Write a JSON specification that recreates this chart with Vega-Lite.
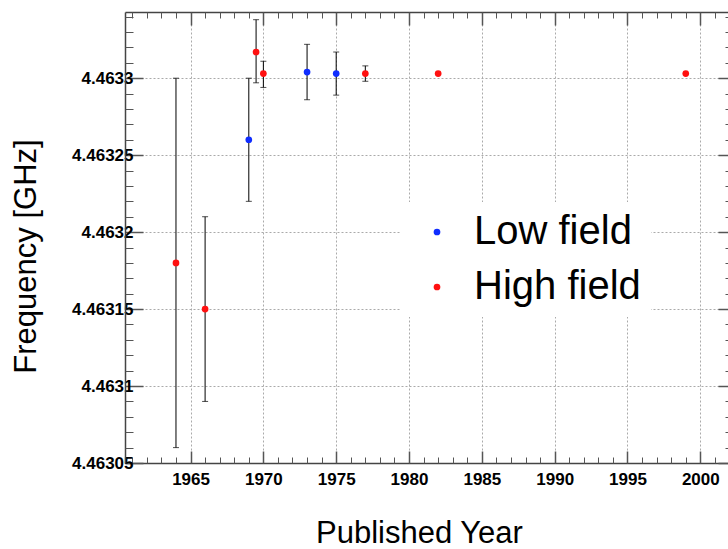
{
  "$schema": "https://vega.github.io/schema/vega-lite/v6.json",
  "width": 603,
  "height": 451,
  "autosize": {"type": "none"},
  "padding": {"left": 125, "top": 12, "right": 0, "bottom": 86},
  "background": "white",
  "config": {
    "view": {"stroke": null},
    "font": "Liberation Sans",
    "axis": {
      "labelFont": "Liberation Sans",
      "labelFontSize": 17,
      "labelFontWeight": "bold",
      "labelColor": "black",
      "labelFlush": false,
      "titleFont": "Liberation Sans",
      "titleFontSize": 31,
      "titleFontWeight": "normal",
      "titleColor": "black",
      "domainColor": "#444",
      "domainWidth": 1.5,
      "tickColor": "#555",
      "tickWidth": 1.5,
      "gridColor": "#aaa",
      "gridDash": [2, 2],
      "gridWidth": 1
    }
  },
  "data": {
    "values": [
      {"year": 1964, "freq": 4.46318, "lo": 4.46306, "hi": 4.4633, "type": "High field"},
      {"year": 1966, "freq": 4.46315, "lo": 4.46309, "hi": 4.46321, "type": "High field"},
      {"year": 1969, "freq": 4.46326, "lo": 4.46322, "hi": 4.4633, "type": "Low field"},
      {"year": 1969.5, "freq": 4.463317, "lo": 4.463297, "hi": 4.463338, "type": "High field"},
      {"year": 1970, "freq": 4.463303, "lo": 4.463294, "hi": 4.463311, "type": "High field"},
      {"year": 1973, "freq": 4.463304, "lo": 4.463286, "hi": 4.463322, "type": "Low field"},
      {"year": 1975, "freq": 4.463303, "lo": 4.463289, "hi": 4.463317, "type": "Low field"},
      {"year": 1977, "freq": 4.463303, "lo": 4.463298, "hi": 4.463308, "type": "High field"},
      {"year": 1982, "freq": 4.463303, "lo": null, "hi": null, "type": "High field"},
      {"year": 1999, "freq": 4.463303, "lo": null, "hi": null, "type": "High field"}
    ]
  },
  "resolve": {"axis": {"x": "independent", "y": "independent"}},
  "layer": [
    {
      "mark": {"type": "rule", "color": "black", "strokeWidth": 1},
      "encoding": {
        "x": {
          "field": "year", "type": "quantitative",
          "scale": {"domain": [1960.5, 2001.9], "nice": false, "zero": false},
          "axis": {
            "orient": "bottom", "values": [1965, 1970, 1975, 1980, 1985, 1990, 1995, 2000],
            "format": "d", "tickSize": -12, "labelPadding": 20, "labelFlush": false, "grid": true, "domain": true,
            "labelFont": "Liberation Sans", "labelFontSize": 17, "labelFontWeight": "bold", "labelColor": "black",
            "title": "Published Year", "titleX": 294, "titleY": 79, "titleBaseline": "alphabetic", "titleAlign": "center"
          }
        },
        "y": {
          "field": "lo", "type": "quantitative",
          "scale": {"domain": [4.46305, 4.463343], "nice": false, "zero": false},
          "axis": {
            "orient": "left", "values": [4.46305, 4.4631, 4.46315, 4.4632, 4.46325, 4.4633],
            "format": ".5~f", "tickSize": -18, "labelPadding": 10, "labelFlush": false, "grid": true, "domain": true,
            "labelFont": "Liberation Sans", "labelFontSize": 17, "labelFontWeight": "bold", "labelColor": "black",
            "title": "Frequency [GHz]", "titleX": -90, "titleY": 244, "titleAngle": -90, "titleBaseline": "alphabetic", "titleAlign": "center"
          }
        },
        "y2": {"field": "hi"}
      }
    },
    {
      "mark": {"type": "tick", "orient": "horizontal", "color": "black", "size": 6, "thickness": 1},
      "encoding": {
        "x": {
          "field": "year", "type": "quantitative",
          "scale": {"domain": [1960.5, 2001.9], "nice": false, "zero": false},
          "axis": {
            "orient": "bottom", "values": [1961,1962,1963,1964,1965,1966,1967,1968,1969,1970,1971,1972,1973,1974,1975,1976,1977,1978,1979,1980,1981,1982,1983,1984,1985,1986,1987,1988,1989,1990,1991,1992,1993,1994,1995,1996,1997,1998,1999,2000,2001],
            "tickSize": -6, "tickWidth": 1, "labels": false, "grid": false, "domain": false, "title": null
          }
        },
        "y": {
          "field": "lo", "type": "quantitative",
          "scale": {"domain": [4.46305, 4.463343], "nice": false, "zero": false},
          "axis": {
            "orient": "left", "values": [4.46306,4.46307,4.46308,4.46309,4.46311,4.46312,4.46313,4.46314,4.46316,4.46317,4.46318,4.46319,4.46321,4.46322,4.46323,4.46324,4.46326,4.46327,4.46328,4.46329,4.46331,4.46332,4.46333,4.46334],
            "tickSize": -8, "tickWidth": 1, "labels": false, "grid": false, "domain": false, "title": null
          }
        }
      }
    },
    {
      "mark": {"type": "tick", "orient": "horizontal", "color": "black", "size": 6, "thickness": 1},
      "encoding": {
        "x": {
          "field": "year", "type": "quantitative",
          "scale": {"domain": [1960.5, 2001.9], "nice": false, "zero": false},
          "axis": {
            "orient": "top", "values": [1965, 1970, 1975, 1980, 1985, 1990, 1995, 2000],
            "tickSize": -13, "labels": false, "grid": false, "domain": true, "title": null
          }
        },
        "y": {
          "field": "hi", "type": "quantitative",
          "scale": {"domain": [4.46305, 4.463343], "nice": false, "zero": false},
          "axis": {
            "orient": "right", "values": [4.46305, 4.4631, 4.46315, 4.4632, 4.46325, 4.4633],
            "tickSize": -10, "labels": false, "grid": false, "domain": false, "title": null
          }
        }
      }
    },
    {
      "mark": {"type": "circle", "size": 45, "opacity": 1},
      "encoding": {
        "x": {
          "field": "year", "type": "quantitative",
          "scale": {"domain": [1960.5, 2001.9], "nice": false, "zero": false},
          "axis": {
            "orient": "top", "values": [1961,1962,1963,1964,1965,1966,1967,1968,1969,1970,1971,1972,1973,1974,1975,1976,1977,1978,1979,1980,1981,1982,1983,1984,1985,1986,1987,1988,1989,1990,1991,1992,1993,1994,1995,1996,1997,1998,1999,2000,2001],
            "tickSize": -6, "tickWidth": 1, "labels": false, "grid": false, "domain": false, "title": null
          }
        },
        "y": {
          "field": "freq", "type": "quantitative",
          "scale": {"domain": [4.46305, 4.463343], "nice": false, "zero": false},
          "axis": {
            "orient": "right", "values": [4.46306,4.46307,4.46308,4.46309,4.46311,4.46312,4.46313,4.46314,4.46316,4.46317,4.46318,4.46319,4.46321,4.46322,4.46323,4.46324,4.46326,4.46327,4.46328,4.46329,4.46331,4.46332,4.46333,4.46334],
            "tickSize": -3, "tickWidth": 1, "labels": false, "grid": false, "domain": false, "title": null
          }
        },
        "color": {
          "field": "type", "type": "nominal",
          "scale": {"domain": ["Low field", "High field"], "range": ["#0f2dff", "#ff1010"]},
          "legend": {
            "orient": "none", "legendX": 275, "legendY": 190, "title": null,
            "fillColor": "white", "padding": 10, "labelFont": "Liberation Sans", "labelFontSize": 40,
            "labelColor": "black", "labelLimit": 400, "symbolType": "circle", "symbolSize": 45, "symbolOffset": 7,
            "labelOffset": 17, "rowPadding": 15, "symbolStrokeWidth": 0
          }
        }
      }
    }
  ]
}
